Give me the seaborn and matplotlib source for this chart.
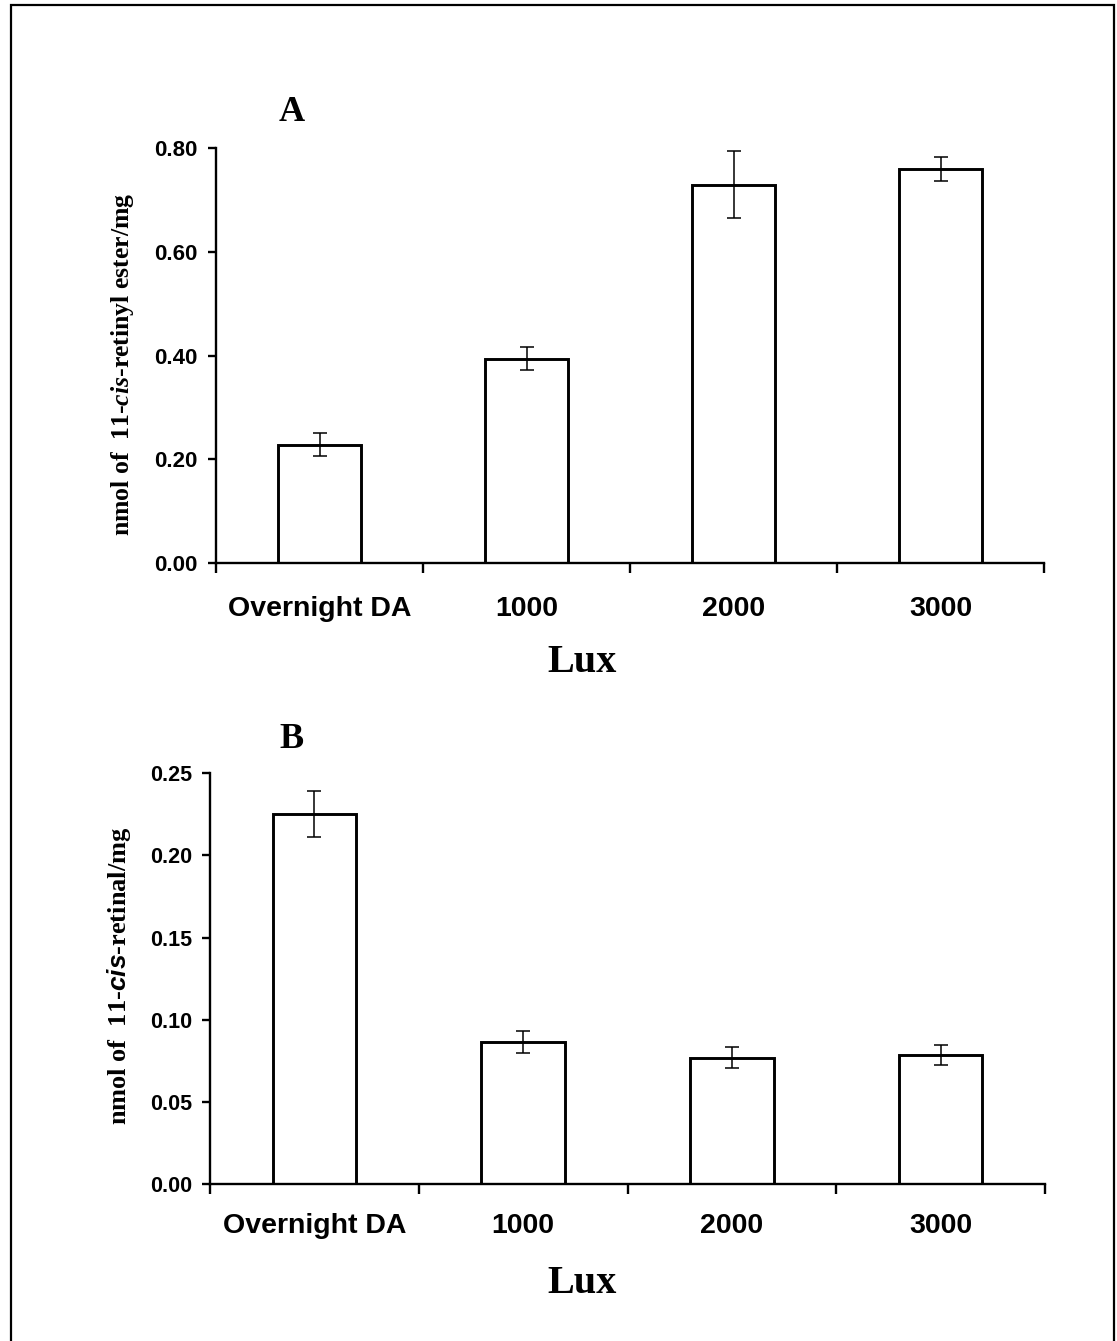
import matplotlib
matplotlib.use("Agg")
import matplotlib.pyplot as plt
import matplotlib.patches as mpatches
from matplotlib.ticker import FixedLocator, NullFormatter
import seaborn as sns
import numpy as np

# ---- data ----
categories = ["Overnight DA", "1000", "2000", "3000"]
ester_values = [0.228, 0.394, 0.730, 0.760]
ester_errors = [0.022, 0.022, 0.065, 0.024]
retinal_values = [0.225, 0.0866, 0.0769, 0.0785]
retinal_errors = [0.014, 0.0066, 0.0063, 0.0060]
ester_ticks = [0.0, 0.2, 0.4, 0.6, 0.8]
ester_ticklabels = ["0.00", "0.20", "0.40", "0.60", "0.80"]
retinal_ticks = [0.0, 0.05, 0.10, 0.15, 0.20, 0.25]
retinal_ticklabels = ["0.00", "0.05", "0.10", "0.15", "0.20", "0.25"]

sns.set_theme(style="white")
plt.rcParams["font.family"] = ["Liberation Sans", "DejaVu Sans"]
plt.rcParams["text.color"] = "black"
plt.rcParams["axes.labelcolor"] = "black"
plt.rcParams["xtick.color"] = "black"
plt.rcParams["ytick.color"] = "black"
plt.rcParams["mathtext.fontset"] = "custom"
plt.rcParams["mathtext.it"] = "Liberation Serif:italic:bold"
plt.rcParams["mathtext.rm"] = "Liberation Serif:bold"
plt.rcParams["mathtext.sf"] = "Liberation Sans:italic:bold"

W, H = 1117, 1341
fig = plt.figure(figsize=(W / 100, H / 100), dpi=100)
fig.patch.set_facecolor("white")


def ax_rect(l, r, t, b):
    return [l / W, 1 - b / H, (r - l) / W, (b - t) / H]


def draw_panel(ax, values, errors, yticks, yticklabels, ymax, ylabel,
               ytick_size, xtick_pad, ylabel_size, ylabel_pos, xlabel_pos):
    sns.barplot(x=categories, y=values, order=categories, ax=ax, width=0.4,
                color="white", edgecolor="black", linewidth=2.1,
                errorbar=None, saturation=1)
    ax.errorbar(np.arange(len(categories)), values, yerr=errors, fmt="none",
                ecolor="black", elinewidth=1.1, capsize=5, capthick=1.1, zorder=5)
    ax.set_xlim(-0.5, len(categories) - 0.5)
    ax.set_ylim(0, ymax)
    for s in ["top", "right"]:
        ax.spines[s].set_visible(False)
    for s in ["left", "bottom"]:
        ax.spines[s].set_linewidth(1.7)
        ax.spines[s].set_color("black")
    ax.set_yticks(yticks)
    ax.set_yticklabels(yticklabels, fontsize=ytick_size, fontweight="bold",
                       family=["Liberation Sans"], color="black")
    ax.tick_params(axis="y", which="major", direction="out", length=6,
                   width=1.7, color="black", pad=7, left=True)
    ax.set_xticks(np.arange(len(categories)))
    ax.set_xticklabels(categories, fontsize=20.5, fontweight="bold",
                       family=["Liberation Sans"], color="black")
    ax.tick_params(axis="x", which="major", length=0, pad=xtick_pad,
                   bottom=True)
    ax.xaxis.set_minor_locator(FixedLocator(np.arange(-0.5, len(categories), 1.0)))
    ax.xaxis.set_minor_formatter(NullFormatter())
    ax.tick_params(axis="x", which="minor", direction="out", length=7,
                   width=1.7, color="black", bottom=True)
    ax.set_ylabel(ylabel, fontsize=ylabel_size, fontweight="bold",
                  family=["Liberation Serif"], color="black")
    ax.yaxis.set_label_coords(*ylabel_pos)
    ax.set_xlabel("Lux", fontsize=29, fontweight="bold",
                  family=["Liberation Serif"], color="black")
    ax.xaxis.set_label_coords(*xlabel_pos)
    ax.grid(False)


axA = fig.add_axes(ax_rect(216, 1044, 148.3, 562.7))
draw_panel(axA, ester_values, ester_errors, ester_ticks, ester_ticklabels, 0.8,
           r"nmol of  11-$\mathit{cis}$-retinyl ester/mg",
           16, 24, 18.5, (-0.097, 0.4795), (0.442, -0.197))

axB = fig.add_axes(ax_rect(210, 1045, 773.3, 1184))
draw_panel(axB, retinal_values, retinal_errors, retinal_ticks, retinal_ticklabels, 0.25,
           r"nmol of  11-$\mathsf{cis}$-retinal/mg",
           15.5, 21, 19, (-0.092, 0.5065), (0.4455, -0.197))

fig.text(292 / W, 1 - 121 / H, "A", fontsize=26, fontweight="bold",
         family=["Liberation Serif"], ha="center", va="baseline", color="black")
fig.text(291.5 / W, 1 - 748 / H, "B", fontsize=26, fontweight="bold",
         family=["Liberation Serif"], ha="center", va="baseline", color="black")

# figure frame (bottom edge lies outside the image)
frame = mpatches.Rectangle((11 / W, -0.05), (1114 - 11) / W, (1 - 5 / H) + 0.05,
                           transform=fig.transFigure, fill=False,
                           edgecolor="black", linewidth=1.6, clip_on=False)
fig.patches.append(frame)

fig.savefig("out.png", dpi=100, facecolor="white")
